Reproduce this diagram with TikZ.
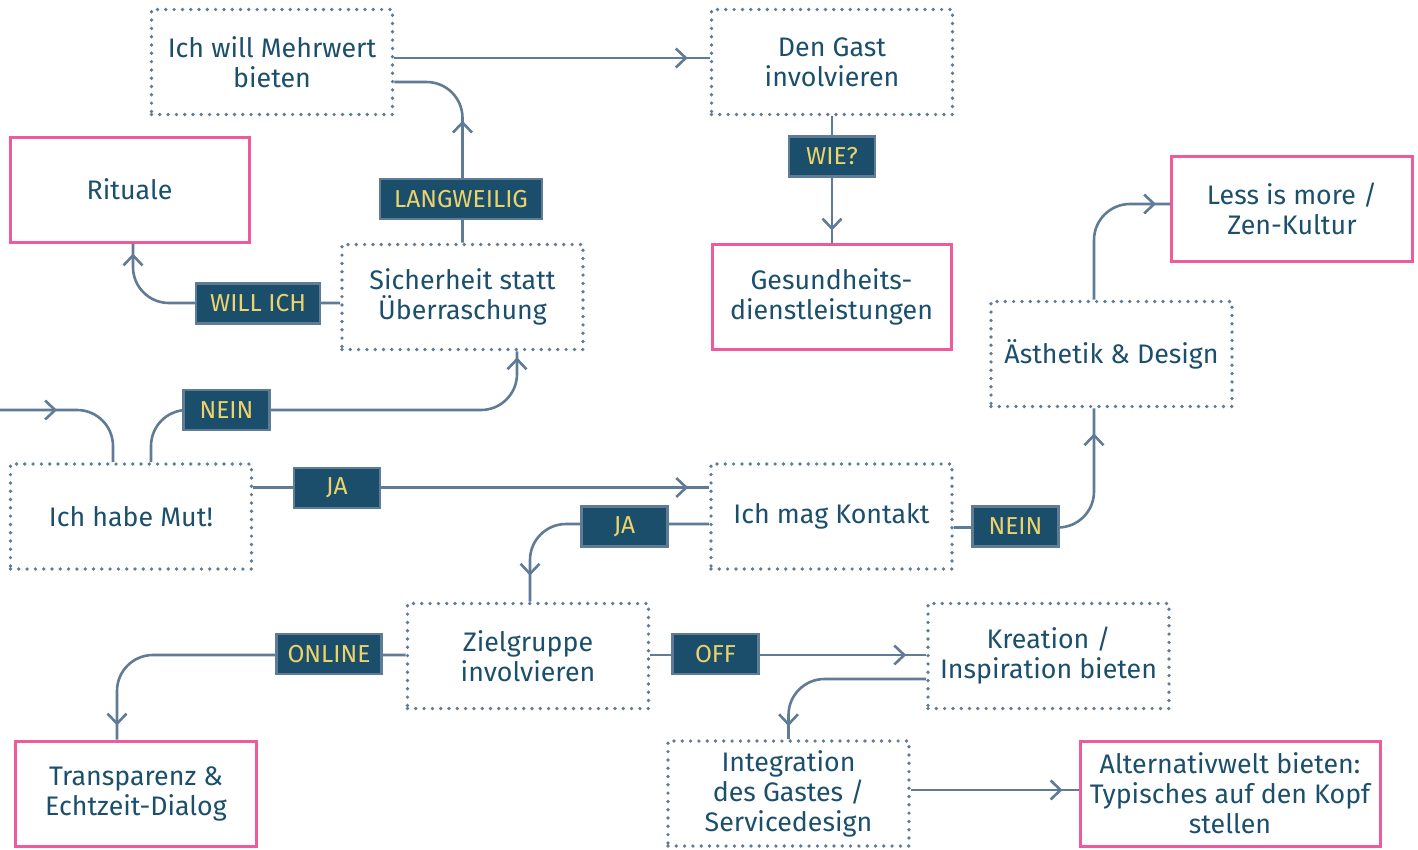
\documentclass[tikz,border=0pt]{standalone}
\usepackage{fontspec}
\setmainfont{Fira Sans}
\usetikzlibrary{arrows.meta,decorations.markings}
\definecolor{txt}{HTML}{1B4F6C}
\definecolor{ln}{HTML}{5F7B96}
\definecolor{pinkc}{HTML}{EE5A9B}
\definecolor{lab}{HTML}{1A4E6A}
\definecolor{yel}{HTML}{EDD36B}
\tikzset{
 box/.style={minimum width=241pt, minimum height=105pt, text=txt, align=center,
   font=\fontsize{26.8}{30}\selectfont, inner sep=0pt},
 dotbox/.style={box, draw=ln, line width=3.7pt, dash pattern=on 0pt off 8.3pt, line cap=round},
 pinkbox/.style={box, draw=pinkc, line width=3pt},
 lbl/.style={fill=lab, draw=ln, line width=2.5pt, text=yel,
   font=\fontsize{24.5}{26}\selectfont, minimum height=40pt, minimum width=86pt,
   inner xsep=11pt, inner ysep=0pt},
 conn/.style={draw, color=ln, line width=2.6pt, rounded corners=36pt},
 arrat/.style={postaction={decorate}, decoration={markings,
   mark=at position #1 with {\arrow{Straight Barb[length=10pt,width=19pt]}}}},
}
\begin{document}
\begin{tikzpicture}[x=1pt,y=-1pt]
\useasboundingbox (0,0) rectangle (1418,849);
% boxes
\node[dotbox] (mehr) at (272,62) {Ich will Mehrwert\\bieten};
\node[dotbox] (gast) at (832,62) {Den Gast\\involvieren};
\node[pinkbox, minimum width=239pt] (rit) at (129.5,189.5) {Rituale};
\node[dotbox] (sich) at (462.5,297) {Sicherheit statt\\Überraschung};
\node[pinkbox, minimum width=239pt] (ges) at (831.5,296.5) {Gesundheits-\\dienstleistungen};
\node[pinkbox] (less) at (1292,208.5) {Less is more /\\Zen-Kultur};
\node[dotbox] (aest) at (1111.5,354) {Ästhetik \& Design};
\node[dotbox] (mut) at (131,516.5) {Ich habe Mut!};
\node[dotbox] (kont) at (831.5,516.5) {Ich mag Kontakt};
\node[dotbox] (ziel) at (528,656) {Zielgruppe\\involvieren};
\node[dotbox] (krea) at (1048.5,656) {Kreation /\\Inspiration bieten};
\node[pinkbox] (trans) at (136,793.5) {Transparenz \&\\Echtzeit-Dialog};
\node[dotbox] (integ) at (788.5,793.5) {Integration\\des Gastes /\\Servicedesign};
\node[pinkbox, minimum width=300pt] (alt) at (1230,793.5) {Alternativwelt bieten:\\Typisches auf den Kopf\\stellen};
% helper coordinates
\coordinate (start) at (0,410);
\coordinate (mutn) at ([xshift=20pt]mut.north);
\coordinate (sichs) at ([xshift=54.5pt]sich.south);
% connectors
\draw[conn, arrat=-22pt] ([yshift=4pt]mehr.east) -- ([yshift=4pt]gast.west);
\draw[conn, arrat=122pt] (sich.north) |- ([yshift=-20pt]mehr.east);
\draw[conn, arrat=-10pt] ([yshift=-6pt]sich.west) -| ([xshift=3.5pt]rit.south);
\draw[conn, arrat=57pt] (start) -| ([xshift=-18pt]mut.north);
\draw[conn, arrat=-6pt] (mutn) |- (start -| sichs) -- (sichs);
\draw[conn, arrat=-21pt] ([yshift=29pt]mut.east) -- ([yshift=29pt]kont.west);
\draw[conn, arrat=-26pt] ([yshift=-7.5pt]kont.west) -| ([xshift=2pt]ziel.north);
\draw[conn, arrat=-25pt] ([yshift=-11pt]kont.east) -| ([xshift=-17.5pt]aest.south);
\draw[conn, arrat=-14pt] ([xshift=-17.5pt]aest.north) |- ([yshift=4.5pt]less.west);
\draw[conn, arrat=-12pt] (gast.south) -- (gast.south |- ges.north);
\draw[conn, arrat=-14pt] ([yshift=1pt]ziel.west) -| ([xshift=-19pt]trans.north);
\draw[conn, arrat=-20pt] ([yshift=1pt]ziel.east) -- ([yshift=1pt]krea.west);
\draw[conn, arrat=-13pt] ([yshift=-23pt]krea.west) -| (integ.north);
\draw[conn, arrat=-16pt] ([yshift=3.5pt]integ.east) -- ([yshift=3.5pt]alt.west);
% labels
\node[lbl, minimum width=162pt] (lw) at (461,199) {LANGWEILIG};
\node[lbl, minimum width=124pt] (wi) at (258,303.5) {WILL ICH};
\node[lbl] (wie) at (832,156.5) {WIE?};
\node[lbl] (nein1) at (226.5,410) {NEIN};
\node[lbl] (ja1) at (337,488) {JA};
\node[lbl] (ja2) at (624.5,526.5) {JA};
\node[lbl] (nein2) at (1015.5,526.5) {NEIN};
\node[lbl, minimum width=102pt] (onl) at (329,654) {ONLINE};
\node[lbl] (off) at (715.5,654) {OFF};
\end{tikzpicture}
\end{document}
